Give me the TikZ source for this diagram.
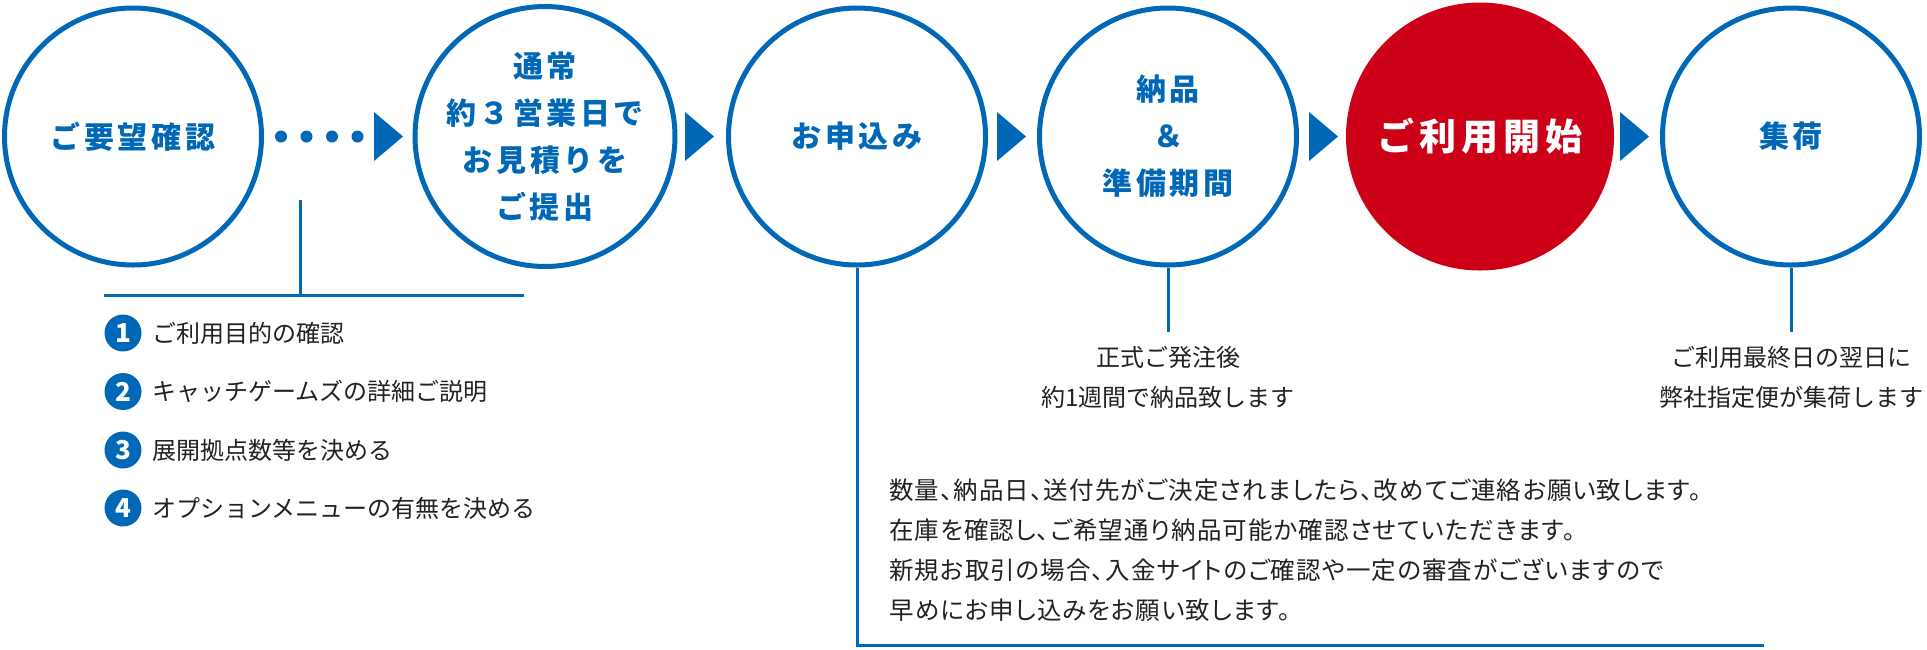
\documentclass[tikz,border=0pt]{standalone}
\usepackage{fontspec}
\setmainfont{Noto Sans CJK JP}
\newfontfamily\jpsp[LetterSpace=12]{Noto Sans CJK JP}
\newfontfamily\jpred[LetterSpace=14]{Noto Sans CJK JP}
\newfontfamily\jppalt[RawFeature=+palt, LetterSpace=4.5]{Noto Sans CJK JP}
\definecolor{cblue}{HTML}{0068B7}
\definecolor{cred}{HTML}{CC0016}
\definecolor{ctext}{HTML}{222222}
\begin{document}
\begin{tikzpicture}[x=1pt,y=-1pt,
  stepcirc/.style={circle, draw=cblue, line width=5pt, fill=white, minimum size=257pt, inner sep=0pt,
    text=cblue, font=\jpsp\bfseries\fontsize{30}{47}\selectfont, align=center},
  redcirc/.style={circle, fill=cred, draw=none, minimum size=268pt, inner sep=0pt,
    text=white, font=\jpred\bfseries\fontsize{37}{44}\selectfont, align=center},
  conn/.style={draw=cblue, line width=3pt},
  dot/.style={circle, fill=cblue, minimum size=12pt, inner sep=0pt},
  numcirc/.style={circle, fill=cblue, minimum size=37pt, inner sep=0pt, text=white,
    font=\bfseries\fontsize{26}{26}\selectfont},
  itemtext/.style={anchor=west, inner sep=0pt, text=ctext, font=\fontsize{24}{24}\selectfont},
  note/.style={inner sep=0pt, text=ctext, align=center, font=\fontsize{24}{40}\selectfont},
  para/.style={inner sep=0pt, text=ctext, anchor=west, align=left, font=\jppalt\fontsize{24.5}{40}\selectfont},
  tri/.pic={\fill[cblue] (0,-24.5) -- (29,0) -- (0,24.5) -- cycle;}
]
\useasboundingbox (0,0) rectangle (1927,649);

% main circles
\node[stepcirc] (c1) at (133,136.5) {ご要望確認};
\node[stepcirc] (c2) at (545,136.5) {通常\\約３営業日で\\お見積りを\\ご提出};
\node[stepcirc] (c3) at (857,136.5) {お申込み};
\node[stepcirc] (c4) at (1168,136.5) {納品\\＆\\準備期間};
\node[redcirc] (c5) at (1480,136.5) {ご利用開始};
\node[stepcirc] (c6) at (1791,136.5) {集荷};

% dots
\node[dot] (d1) at (281,136.5) {};
\node[dot] (d2) at (306.5,136.5) {};
\node[dot] (d3) at (332,136.5) {};
\node[dot] (d4) at (357.5,136.5) {};

% arrow triangles
\pic at (374,136.5) {tri};
\pic at (685,136.5) {tri};
\pic at (997,136.5) {tri};
\pic at (1309,136.5) {tri};
\pic at (1620,136.5) {tri};

% connector under first step
\coordinate (b1) at (300,200);
\coordinate (hl) at (104,295);
\coordinate (hr) at (524,295);
\draw[conn] (b1) -- (b1 |- hl);
\draw[conn] (hl) -- (hr);

% list
\node[numcirc] (n1) at (123,333) {1};
\node[numcirc] (n2) at (123,391.5) {2};
\node[numcirc] (n3) at (123,450) {3};
\node[numcirc] (n4) at (123,508) {4};
\node[itemtext] (t1) at (152,333) {ご利用目的の確認};
\node[itemtext] (t2) at (152,391.5) {キャッチゲームズの詳細ご説明};
\node[itemtext] (t3) at (152,450) {展開拠点数等を決める};
\node[itemtext] (t4) at (152,508) {オプションメニューの有無を決める};

% connector from step 3
\coordinate (e3) at (1764,645);
\draw[conn] (c3.south) -- (c3.south |- e3) -- (e3);
\node[para] (p3) at (889,550)
 {数量、納品日、送付先がご決定されましたら、改めてご連絡お願い致します。\\
  在庫を確認し、ご希望通り納品可能か確認させていただきます。\\
  新規お取引の場合、入金サイトのご確認や一定の審査がございますので\\
  早めにお申し込みをお願い致します。};

% step 4 note
\coordinate (e4) at (1168,332);
\draw[conn] (c4.south) -- (e4);
\node[note] (p4) at (1168,377) {正式ご発注後\\約1週間で納品致します};

% step 6 note
\coordinate (e6) at (1791,332);
\draw[conn] (c6.south) -- (e6);
\node[note] (p6) at (1791,377) {ご利用最終日の翌日に\\弊社指定便が集荷します};
\end{tikzpicture}
\end{document}
